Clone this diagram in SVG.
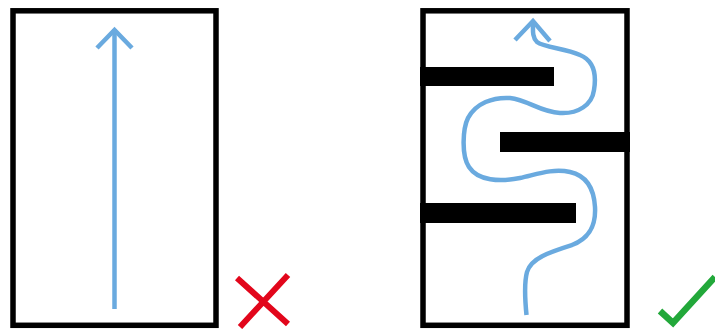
<svg xmlns="http://www.w3.org/2000/svg" width="715" height="329" viewBox="0 0 715 329">
  <style>
    .frame { fill: none; stroke: #000; stroke-width: 5.5; }
    .wall { fill: #000; }
    .flow { fill: none; stroke: #6aaadf; stroke-width: 4.5; stroke-linecap: butt; stroke-linejoin: miter; }
    .bad { fill: none; stroke: #e2061b; stroke-width: 6; }
    .good { fill: none; stroke: #22a83a; stroke-width: 6.5; }
  </style>
  <rect width="715" height="329" fill="#fff"/>

  <!-- straight channel -->
  <g id="straight">
    <rect class="frame" x="13" y="10.8" width="203" height="314.5"/>
    <path class="flow" d="M114.5,309 V29"/>
    <path class="flow" d="M97,48 L114.5,30 L132,48"/>
  </g>

  <!-- baffled channel -->
  <g id="baffled">
    <rect class="frame" x="423" y="10.8" width="204" height="314.5"/>
    <rect class="wall" x="420" y="67" width="134" height="19"/>
    <rect class="wall" x="500" y="132" width="130" height="20"/>
    <rect class="wall" x="420" y="203" width="156" height="20"/>
    <path class="flow" d="M526.5,315 C525,300 524,283 527,272 C531,258 550,252 572,245 C590,238 596,225 595,207 C594,190 588,176 570,172 C552,168 535,175 520,178 C500,182 478,181 469,167 C461,155 463,128 468,118 C476,103 493,97 510,98 C528,100 540,112 560,113 C578,114 592,105 594,90 C597,72 592,60 580,55 C565,48 545,48 537,42 C532,37 533,30 533,22"/>
    <path class="flow" d="M515,40 L533,21 L550,41"/>
  </g>

  <g id="mark-wrong">
    <path class="bad" d="M237,278 L288,324 M288,275 L240,327"/>
  </g>
  <g id="mark-right">
    <path class="good" d="M660,311 L673,323 L715,277"/>
  </g>
</svg>
